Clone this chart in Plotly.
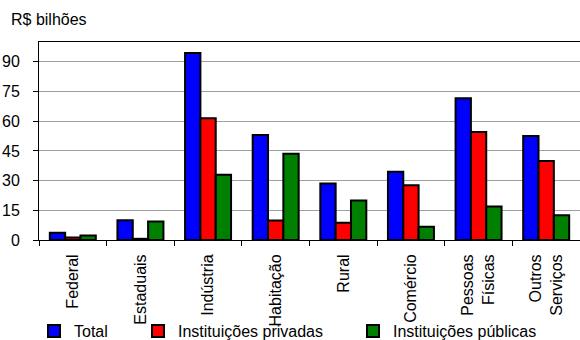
import plotly.graph_objects as go

categories = ["Federal", "Estaduais", "Indústria", "Habitação", "Rural",
              "Comércio", "Pessoas<br>Físicas", "Outros<br>Serviços"]
total = [3.7, 10.0, 94.5, 53.0, 28.5, 34.5, 71.6, 52.5]
privadas = [1.2, 0.6, 61.5, 9.8, 8.7, 27.7, 54.6, 39.9]
publicas = [2.3, 9.4, 33.0, 43.6, 19.9, 6.7, 16.9, 12.5]
yticks = [0, 15, 30, 45, 60, 75, 90]

FONT = "Liberation Sans, Arial, sans-serif"
FS = 16
W, H = 580, 340
ML, MT, MB, MR = 39, 42, 100, 0

# name, values, fill colour, legend id, x where the legend text begins
series = [
    ("Total", total, "#0000FF", "legend", 74),
    ("Instituições privadas", privadas, "#FF0000", "legend2", 178),
    ("Instituições públicas", publicas, "#008000", "legend3", 393),
]

fig = go.Figure()
for name, vals, color, leg, _ in series:
    fig.add_trace(go.Bar(
        x=categories, y=vals, name=name, legend=leg,
        marker=dict(color=color, line=dict(color="black", width=2)),
    ))

legend_common = dict(
    orientation="h", xref="container", yref="container",
    yanchor="middle", bgcolor="rgba(0,0,0,0)",
    font=dict(family=FONT, size=FS, color="black"),
    itemclick=False, tracegroupgap=0,
)
layout_legends = {}
for name, vals, color, leg, text_x in series:
    layout_legends[leg] = dict(legend_common, x=(text_x - 40) / W, y=(H - 331) / H)

fig.update_layout(
    width=W, height=H,
    margin=dict(l=ML, r=MR, t=MT, b=MB, pad=0, autoexpand=False),
    paper_bgcolor="white", plot_bgcolor="white",
    barmode="group", bargap=0.32, bargroupgap=0,
    showlegend=True,
    font=dict(family=FONT, size=FS, color="black"),
    xaxis=dict(
        type="category", tickangle=-90, tickson="boundaries",
        ticks="outside", ticklen=5, tickcolor="black",
        showline=True, linecolor="black", linewidth=1, mirror=True,
        showgrid=False, ticklabelstandoff=7, automargin=False,
        tickfont=dict(family=FONT, size=FS, color="black"),
    ),
    yaxis=dict(
        range=[0, 100], tickvals=yticks, ticktext=[str(v) for v in yticks],
        ticks="outside", ticklen=5, tickcolor="black",
        showline=True, linecolor="black", linewidth=1,
        showgrid=True, gridcolor="#a0a0a0", gridwidth=1,
        zeroline=False, ticklabelstandoff=10, automargin=False,
        tickfont=dict(family=FONT, size=FS, color="black"),
    ),
    annotations=[dict(
        text="R$ bilhões", xref="paper", yref="paper",
        x=(9 - ML) / (W - ML - MR), y=(H - MB - 20) / (H - MT - MB),
        xanchor="left", yanchor="middle", showarrow=False,
        font=dict(family=FONT, size=FS, color="black"),
    )],
    **layout_legends,
)

fig.write_html("out.html")
